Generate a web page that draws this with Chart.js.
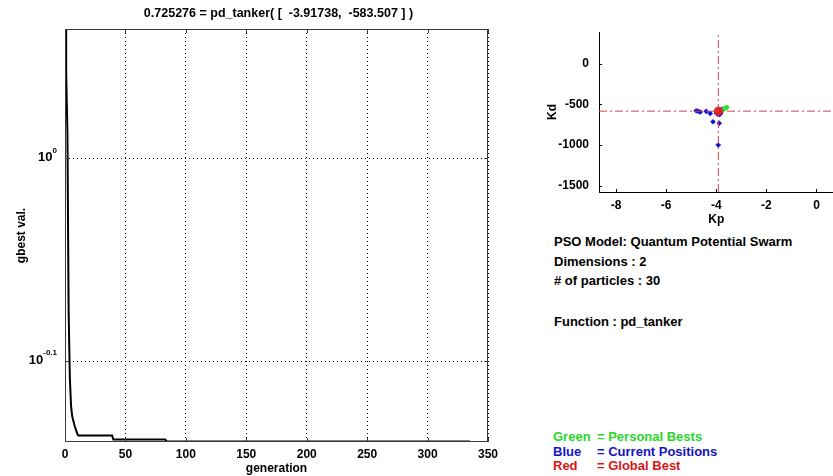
<!DOCTYPE html>
<html>
<head>
<meta charset="utf-8">
<script src="https://cdn.jsdelivr.net/npm/chart.js@4.4.1/dist/chart.umd.min.js"></script>
<style>
  body { margin: 0; background: #fff; font-family: "Liberation Sans", Arial, sans-serif; }
  #wrap { position: relative; width: 833px; height: 476px; overflow: hidden; }
  canvas { position: absolute; top: 0; }
  .info { position: absolute; left: 554px; font-weight: bold; font-size: 13px; line-height: 15px; color: #000; white-space: nowrap; }
  .key { position: absolute; left: 553px; font-weight: bold; font-size: 13px; line-height: 15px; white-space: nowrap; }
  .key span { display: inline-block; width: 44px; }
</style>
</head>
<body>
<div id="wrap">
  <canvas id="gbestChart" width="520" height="476" style="left:0"></canvas>
  <canvas id="swarmChart" width="318" height="232" style="left:520px"></canvas>
  <div class="info" style="top:234px">PSO Model: Quantum Potential Swarm</div>
  <div class="info" style="top:254px">Dimensions : 2</div>
  <div class="info" style="top:273px"># of particles : 30</div>
  <div class="info" style="top:314px">Function : pd_tanker</div>
  <div class="key" style="top:429px;color:#2ad62a"><span>Green</span>= Personal Bests</div>
  <div class="key" style="top:444px;color:#1414c8"><span>Blue</span>= Current Positions</div>
  <div class="key" style="top:458px;color:#dc1414"><span>Red</span>= Global Best</div>
</div>
<script>
// convergence curve
const generations = [0, 1, 2, 3, 4, 5, 6, 7, 8, 9, 10, 11, 39, 40, 83, 84, 335];
const gbestValues = [3.0, 1.10, 1.03, 0.84, 0.78, 0.755, 0.746, 0.742, 0.738, 0.735, 0.732, 0.7302, 0.7302, 0.7268, 0.7268, 0.7253, 0.7253];
const yTickExponents = [-0.1, 0];
const titleText = "0.725276 = pd_tanker( [  -3.91738,  -583.507 ] )";

// swarm snapshot
const currentKp = [-4.80, -4.72, -4.64, -4.40, -4.24, -4.13, -3.88, -3.92,
  -3.96, -3.92, -3.88, -3.86, -3.84, -3.80, -3.78, -3.93, -3.97, -3.91,
  -3.87, -3.75, -3.85, -3.89, -3.94, -3.83, -3.76, -3.90, -3.87, -3.96, -3.81, -3.99];
const currentKd = [-578, -585, -594, -586, -611, -713, -733, -1000,
  -590, -605, -585, -600, -615, -575, -570, -620, -605, -570,
  -625, -560, -590, -600, -585, -605, -565, -593, -580, -575, -590, -610];
const personalKp = [-3.57, -3.61, -3.65, -3.69, -3.73, -3.88, -3.90];
const personalKd = [-537, -543, -550, -557, -565, -580, -590];
const globalBestKp = -3.91738;
const globalBestKd = -583.507;
const kpTicks = [-8, -6, -4, -2, 0];
const kdTicks = [-1500, -1000, -500, 0];
const kpRange = [-8.68, 0.68];
const kdRange = [-1577, 389];

const FONT = '"Liberation Sans", Arial, sans-serif';
const tickFont = { family: FONT, size: 12, weight: 'bold' };

const matlabBox = {
  id: 'matlabBox',
  afterDraw(chart) {
    const { ctx, chartArea: a, scales } = chart;
    ctx.save();
    ctx.strokeStyle = '#3a3a3a';
    ctx.lineWidth = 1;
    ctx.strokeRect(a.left + 0.5, a.top + 0.5, a.right - a.left - 1, a.bottom - a.top - 1);
    ctx.beginPath();
    scales.x.ticks.forEach(t => {
      const px = Math.round(scales.x.getPixelForValue(t.value)) + 0.5;
      ctx.moveTo(px, a.bottom); ctx.lineTo(px, a.bottom - 4);
      ctx.moveTo(px, a.top); ctx.lineTo(px, a.top + 4);
    });
    scales.y.ticks.forEach(t => {
      const py = Math.round(scales.y.getPixelForValue(t.value)) + 0.5;
      ctx.moveTo(a.left, py); ctx.lineTo(a.left + 4, py);
      ctx.moveTo(a.right, py); ctx.lineTo(a.right - 4, py);
    });
    ctx.stroke();
    // y tick labels: 10 with raised exponent
    ctx.fillStyle = '#000';
    ctx.textBaseline = 'middle';
    yTickExponents.forEach(e => {
      const py = scales.y.getPixelForValue(Math.pow(10, e));
      const exp = String(e);
      ctx.font = 'bold 8px ' + FONT;
      const ew = ctx.measureText(exp).width;
      ctx.font = 'bold 13px ' + FONT;
      const bw = ctx.measureText('10').width;
      const right = a.left - 8;
      ctx.fillText('10', right - ew - bw, py - 1);
      ctx.font = 'bold 8px ' + FONT;
      ctx.fillText(exp, right - ew, py - 8);
    });
    ctx.font = 'bold 12.5px ' + FONT;
    ctx.textAlign = 'center';
    ctx.fillText(titleText, (a.left + a.right) / 2 + 2, 14);
    ctx.restore();
  }
};

const innerTicks = {
  id: 'innerTicks',
  afterDraw(chart) {
    const { ctx, chartArea: a, scales } = chart;
    ctx.save();
    ctx.strokeStyle = '#000';
    ctx.lineWidth = 1;
    ctx.beginPath();
    scales.x.ticks.forEach(t => {
      const px = Math.round(scales.x.getPixelForValue(t.value)) + 0.5;
      ctx.moveTo(px, a.bottom); ctx.lineTo(px, a.bottom - 3);
    });
    scales.y.ticks.forEach(t => {
      const py = Math.round(scales.y.getPixelForValue(t.value)) + 0.5;
      ctx.moveTo(a.left, py); ctx.lineTo(a.left + 3, py);
    });
    ctx.stroke();
    ctx.restore();
  }
};

new Chart(document.getElementById('gbestChart'), {
  type: 'line',
  data: {
    datasets: [{
      data: generations.map((g, i) => ({ x: g, y: gbestValues[i] })),
      borderColor: '#000',
      borderWidth: 2,
      pointRadius: 0,
      tension: 0,
    }]
  },
  options: {
    responsive: false,
    animation: false,
    layout: { padding: { top: 29, right: 32, left: 0, bottom: 0 } },
    plugins: { legend: { display: false }, tooltip: { enabled: false } },
    scales: {
      x: {
        type: 'linear',
        min: 0,
        max: 350,
        ticks: { stepSize: 50, color: '#000', padding: 5, font: tickFont },
        grid: { color: '#000', drawTicks: false },
        border: { display: false, dash: [1, 3] },
        title: { display: true, text: 'generation', color: '#000', padding: { top: 0, bottom: 0 }, font: tickFont },
        afterFit: s => { s.height = 34; },
      },
      y: {
        type: 'logarithmic',
        min: 0.7248,
        max: 1.158,
        bounds: 'data',
        afterBuildTicks: s => { s.ticks = yTickExponents.map(e => ({ value: Math.pow(10, e) })); },
        ticks: { display: false },
        grid: { color: '#000', drawTicks: false },
        border: { display: false, dash: [1, 3] },
        title: { display: true, text: 'gbest val.', color: '#000', padding: { top: 14, bottom: 0 }, font: tickFont },
        afterFit: s => { s.width = 65; },
      }
    }
  },
  plugins: [matlabBox]
});

new Chart(document.getElementById('swarmChart'), {
  type: 'scatter',
  data: {
    datasets: [
      {
        data: [{ x: globalBestKp, y: kdRange[0] }, { x: globalBestKp, y: kdRange[1] }],
        showLine: true, borderColor: '#d8404a', borderWidth: 1, borderDash: [8, 3, 2, 3], pointRadius: 0,
      },
      {
        data: [{ x: kpRange[0], y: globalBestKd }, { x: kpRange[1], y: globalBestKd }],
        showLine: true, borderColor: '#d8404a', borderWidth: 1, borderDash: [8, 3, 2, 3], pointRadius: 0,
      },
      {
        data: [{ x: globalBestKp, y: globalBestKd }],
        pointStyle: 'circle', pointRadius: 4.5, backgroundColor: '#e02020', borderColor: '#e02020', borderWidth: 0,
      },
      {
        data: personalKp.map((k, i) => ({ x: k, y: personalKd[i] })),
        pointStyle: 'rectRot', pointRadius: 2.8, backgroundColor: '#33e033', borderColor: '#33e033', borderWidth: 0,
      },
      {
        data: currentKp.map((k, i) => ({ x: k, y: currentKd[i] })),
        pointStyle: 'rectRot', pointRadius: 2.8, backgroundColor: '#1212d0', borderColor: '#1212d0', borderWidth: 0,
      },
    ]
  },
  options: {
    responsive: false,
    animation: false,
    layout: { padding: { top: 32, right: 0, left: 0, bottom: 0 } },
    plugins: { legend: { display: false }, tooltip: { enabled: false } },
    scales: {
      x: {
        type: 'linear',
        min: kpRange[0],
        max: kpRange[1],
        afterBuildTicks: s => { s.ticks = kpTicks.map(v => ({ value: v })); },
        ticks: { color: '#000', padding: 6, font: tickFont, callback: v => String(v) },
        grid: { display: false, drawTicks: false },
        border: { display: true, color: '#000', width: 1 },
        title: { display: true, text: 'Kp', color: '#000', padding: { top: 0, bottom: 5 }, font: tickFont },
        afterFit: s => { s.height = 40; },
      },
      y: {
        type: 'linear',
        min: kdRange[0],
        max: kdRange[1],
        afterBuildTicks: s => { s.ticks = kdTicks.map(v => ({ value: v })); },
        ticks: { color: '#000', padding: 10, font: tickFont, callback: v => String(v) },
        grid: { display: false, drawTicks: false },
        border: { display: true, color: '#000', width: 1 },
        title: { display: true, text: 'Kd', color: '#000', padding: { top: 25, bottom: 0 }, font: tickFont },
        afterFit: s => { s.width = 79; },
      }
    }
  },
  plugins: [innerTicks]
});
</script>
</body>
</html>
